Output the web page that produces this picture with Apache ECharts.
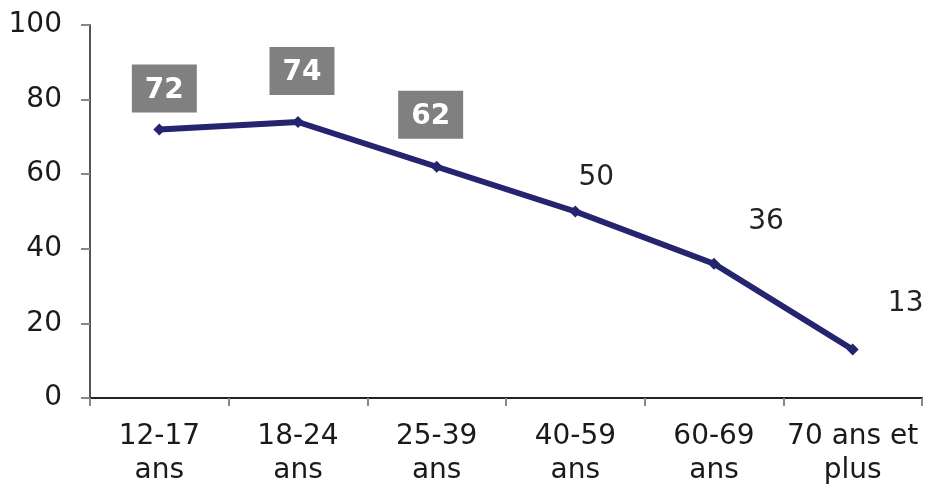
<!DOCTYPE html>
<html><head><meta charset="utf-8">
<script src="https://cdn.jsdelivr.net/npm/echarts@6/dist/echarts.min.js"></script>
<style>html,body{margin:0;padding:0;background:#fff}#c{width:925px;height:486px}</style>
</head><body><div id="c"></div>
<script>
const categories = ["12-17\nans", "18-24\nans", "25-39\nans", "40-59\nans", "60-69\nans", "70 ans et\nplus"];
const values = [72, 74, 62, 50, 36, 13];
const yTicks = [0, 20, 40, 60, 80, 100];

const boxedCount = 3;
const labelOffsets = [[5,0],[4,-10],[-6,-11],[21,-4],[52,-12],[53,-16]];

const chart = echarts.init(document.getElementById('c'));
const data = values.map((v, i) => {
  if (i < boxedCount) {
    return {value: v, label: {show: true, position: 'top', distance: 11, offset: labelOffsets[i],
      backgroundColor: '#808080', color: '#fff', fontWeight: 'bold', fontSize: 28,
      fontFamily: 'DejaVu Sans', padding: [12, 13, 8, 13]}};
  }
  return {value: v, label: {show: true, position: 'top', distance: 10, offset: labelOffsets[i],
    color: '#222', fontSize: 28, fontFamily: 'DejaVu Sans'}};
});
chart.setOption({
  animation: false,
  grid: {left: 90, right: 3, top: 25, bottom: 88, containLabel: false, outerBoundsMode: 'none'},
  xAxis: {type: 'category', data: categories, boundaryGap: true,
    axisLine: {lineStyle: {color: '#222', width: 2}},
    axisTick: {show: true, length: 8, lineStyle: {color: '#888', width: 2}},
    axisLabel: {color: '#1a1a1a', fontSize: 28, fontFamily: 'DejaVu Sans', lineHeight: 34, margin: 22, interval: 0}},
  yAxis: {type: 'value', min: 0, max: 100, interval: 20,
    axisLine: {show: true, lineStyle: {color: '#555', width: 2}},
    axisTick: {show: true, length: 9, lineStyle: {color: '#888', width: 2}},
    splitLine: {show: false},
    axisLabel: {color: '#1a1a1a', fontSize: 28, fontFamily: 'DejaVu Sans', margin: 28,
      formatter: v => yTicks.includes(v) ? String(v) : ''}},
  series: [{type: 'line', data: data, symbol: 'diamond', symbolSize: 12,
    lineStyle: {color: '#25246f', width: 6}, itemStyle: {color: '#25246f'}}]
});
</script></body></html>
